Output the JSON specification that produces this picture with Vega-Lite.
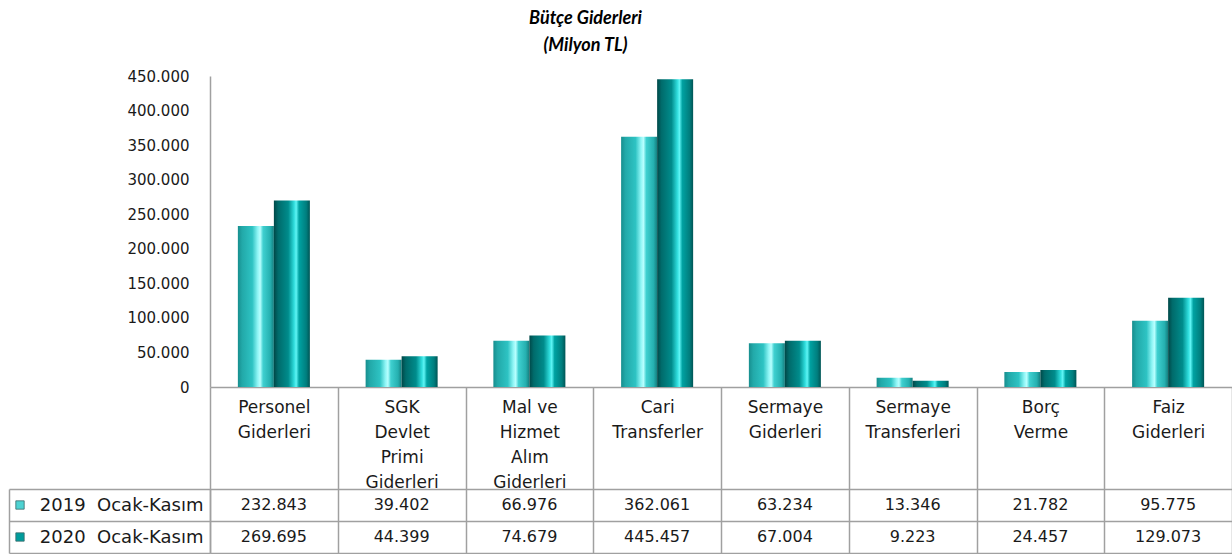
{
  "$schema": "https://vega.github.io/schema/vega-lite/v6.json",
  "autosize": {"type": "pad"},
  "padding": {"left": 8, "top": 10, "right": 0, "bottom": 0},
  "background": "white",
  "title": {
    "text": ["Bütçe Giderleri", "(Milyon TL)"],
    "font": "Lato",
    "fontSize": 18,
    "fontStyle": "italic",
    "fontWeight": "bold",
    "lineHeight": 27,
    "color": "#000000",
    "anchor": "middle",
    "dx": -35,
    "offset": 14
  },
  "datasets": {
    "gider": [
      {"kalem": "Personel Giderleri", "donem": "2019 Ocak-Kasım", "deger": 232843},
      {"kalem": "Personel Giderleri", "donem": "2020 Ocak-Kasım", "deger": 269695},
      {"kalem": "SGK Devlet Primi Giderleri", "donem": "2019 Ocak-Kasım", "deger": 39402},
      {"kalem": "SGK Devlet Primi Giderleri", "donem": "2020 Ocak-Kasım", "deger": 44399},
      {"kalem": "Mal ve Hizmet Alım Giderleri", "donem": "2019 Ocak-Kasım", "deger": 66976},
      {"kalem": "Mal ve Hizmet Alım Giderleri", "donem": "2020 Ocak-Kasım", "deger": 74679},
      {"kalem": "Cari Transferler", "donem": "2019 Ocak-Kasım", "deger": 362061},
      {"kalem": "Cari Transferler", "donem": "2020 Ocak-Kasım", "deger": 445457},
      {"kalem": "Sermaye Giderleri", "donem": "2019 Ocak-Kasım", "deger": 63234},
      {"kalem": "Sermaye Giderleri", "donem": "2020 Ocak-Kasım", "deger": 67004},
      {"kalem": "Sermaye Transferleri", "donem": "2019 Ocak-Kasım", "deger": 13346},
      {"kalem": "Sermaye Transferleri", "donem": "2020 Ocak-Kasım", "deger": 9223},
      {"kalem": "Borç Verme", "donem": "2019 Ocak-Kasım", "deger": 21782},
      {"kalem": "Borç Verme", "donem": "2020 Ocak-Kasım", "deger": 24457},
      {"kalem": "Faiz Giderleri", "donem": "2019 Ocak-Kasım", "deger": 95775},
      {"kalem": "Faiz Giderleri", "donem": "2020 Ocak-Kasım", "deger": 129073}
    ]
  },
  "columns": 2,
  "align": "each",
  "bounds": "flush",
  "spacing": {"row": 102, "column": 0},
  "concat": [
    {
      "width": 201,
      "height": 311,
      "data": {"values": []},
      "mark": {"type": "point", "opacity": 0},
      "encoding": {}
    },
    {
      "width": 1022,
      "height": 311,
      "data": {"name": "gider"},
      "encoding": {
        "x": {
          "field": "kalem",
          "type": "nominal",
          "scale": {
            "type": "band",
            "domain": ["Personel Giderleri", "SGK Devlet Primi Giderleri", "Mal ve Hizmet Alım Giderleri", "Cari Transferler", "Sermaye Giderleri", "Sermaye Transferleri", "Borç Verme", "Faiz Giderleri"],
            "paddingInner": 0,
            "paddingOuter": 0
          },
          "axis": {
            "title": null,
            "orient": "bottom",
            "tickBand": "extent",
            "ticks": true,
            "tickSize": 166,
            "tickColor": "#a0a0a0",
            "tickWidth": 1.5,
            "domain": true,
            "domainColor": "#a0a0a0",
            "domainWidth": 1.5,
            "labelAngle": 0,
            "labelPadding": -154,
            "labelBaseline": "top",
            "labelLineHeight": 25,
            "labelOverlap": false,
            "labelLimit": 0,
            "labelFont": "DejaVu Sans",
            "labelFontSize": 17,
            "labelColor": "#1a1a1a",
            "labelExpr": "split(replace(datum.label, 'Mal ve', 'Mal\u00a0ve'), ' ')"
          }
        },
        "xOffset": {
          "field": "donem",
          "type": "nominal",
          "scale": {"domain": ["2019 Ocak-Kasım", "2020 Ocak-Kasım"], "paddingInner": 0, "paddingOuter": 0.774}
        },
        "y": {
          "field": "deger",
          "type": "quantitative",
          "scale": {"domain": [0, 450000], "nice": false, "zero": true},
          "axis": {
            "title": null,
            "values": [0, 50000, 100000, 150000, 200000, 250000, 300000, 350000, 400000, 450000],
            "format": ",d",
            "ticks": false,
            "grid": false,
            "labelPadding": 21,
            "domain": true,
            "domainColor": "#a0a0a0",
            "domainWidth": 1.5,
            "labelFont": "DejaVu Sans",
            "labelFontSize": 15,
            "labelColor": "#1a1a1a"
          }
        }
      },
      "layer": [
        {
          "transform": [{"filter": "datum.donem === '2019 Ocak-Kasım'"}],
          "mark": {
            "type": "bar",
            "color": {
              "gradient": "linear", "x1": 0, "x2": 1, "y1": 0, "y2": 0,
              "stops": [
                {"offset": 0, "color": "#178e8e"},
                {"offset": 0.12, "color": "#22a9a9"},
                {"offset": 0.4, "color": "#2ec3c3"},
                {"offset": 0.55, "color": "#8ff5f5"},
                {"offset": 0.62, "color": "#b8ffff"},
                {"offset": 0.7, "color": "#3fd0d0"},
                {"offset": 0.9, "color": "#25b0b0"},
                {"offset": 1, "color": "#157f7f"}
              ]
            }
          }
        },
        {
          "transform": [{"filter": "datum.donem === '2020 Ocak-Kasım'"}],
          "mark": {
            "type": "bar",
            "color": {
              "gradient": "linear", "x1": 0, "x2": 1, "y1": 0, "y2": 0,
              "stops": [
                {"offset": 0, "color": "#004848"},
                {"offset": 0.12, "color": "#006b6b"},
                {"offset": 0.4, "color": "#008c8c"},
                {"offset": 0.56, "color": "#2fdcdc"},
                {"offset": 0.62, "color": "#5ff5f5"},
                {"offset": 0.7, "color": "#00a2a2"},
                {"offset": 0.9, "color": "#007e7e"},
                {"offset": 1, "color": "#005555"}
              ]
            }
          }
        }
      ]
    },
    {
      "width": 22,
      "height": 64,
      "data": {"name": "gider"},
      "transform": [{"aggregate": [{"op": "count", "as": "n"}], "groupby": ["donem"]}],
      "mark": {"type": "point", "shape": "square", "filled": true, "size": 70, "opacity": 1, "stroke": "#3a6a6a", "strokeWidth": 0.8},
      "encoding": {
        "y": {
          "field": "donem",
          "type": "nominal",
          "scale": {"type": "point", "padding": 0.5, "domain": ["2019 Ocak-Kasım", "2020 Ocak-Kasım"]},
          "axis": {"title": null, "labels": false, "ticks": false, "grid": false, "domain": true, "domainColor": "#a0a0a0", "domainWidth": 1.5}
        },
        "color": {
          "field": "donem",
          "type": "nominal",
          "scale": {"domain": ["2019 Ocak-Kasım", "2020 Ocak-Kasım"], "range": ["#4dd2d2", "#009c9c"]},
          "legend": null
        }
      }
    },
    {
      "width": 1022,
      "height": 64,
      "data": {"name": "gider"},
      "mark": {"type": "text", "font": "DejaVu Sans", "fontSize": 16, "color": "#1a1a1a", "baseline": "middle", "align": "center"},
      "encoding": {
        "x": {
          "field": "kalem",
          "type": "nominal",
          "scale": {
            "type": "band",
            "domain": ["Personel Giderleri", "SGK Devlet Primi Giderleri", "Mal ve Hizmet Alım Giderleri", "Cari Transferler", "Sermaye Giderleri", "Sermaye Transferleri", "Borç Verme", "Faiz Giderleri"],
            "paddingInner": 0,
            "paddingOuter": 0
          },
          "axis": null
        },
        "y": {
          "field": "donem",
          "type": "nominal",
          "scale": {"type": "band", "domain": ["2019 Ocak-Kasım", "2020 Ocak-Kasım"], "paddingInner": 0, "paddingOuter": 0},
          "axis": {
            "title": null,
            "tickBand": "extent",
            "ticks": true,
            "tickSize": 201,
            "tickColor": "#a0a0a0",
            "tickWidth": 1.5,
            "grid": true,
            "gridColor": "#a0a0a0",
            "gridWidth": 1.5,
            "domain": true,
            "domainColor": "#a0a0a0",
            "domainWidth": 1.5,
            "labelPadding": -194,
            "labelAlign": "right",
            "labelBaseline": "middle",
            "labelFont": "DejaVu Sans",
            "labelFontSize": 18,
            "labelColor": "#1a1a1a",
            "labelLimit": 0,
            "labelExpr": "replace(datum.label, ' ', '\u00a0\u00a0')"
          }
        },
        "text": {"field": "deger", "type": "quantitative", "format": ",d"}
      }
    }
  ],
  "config": {
    "font": "DejaVu Sans",
    "view": {"stroke": null},
    "locale": {"number": {"decimal": ",", "thousands": ".", "grouping": [3], "currency": ["", " TL"]}}
  }
}
